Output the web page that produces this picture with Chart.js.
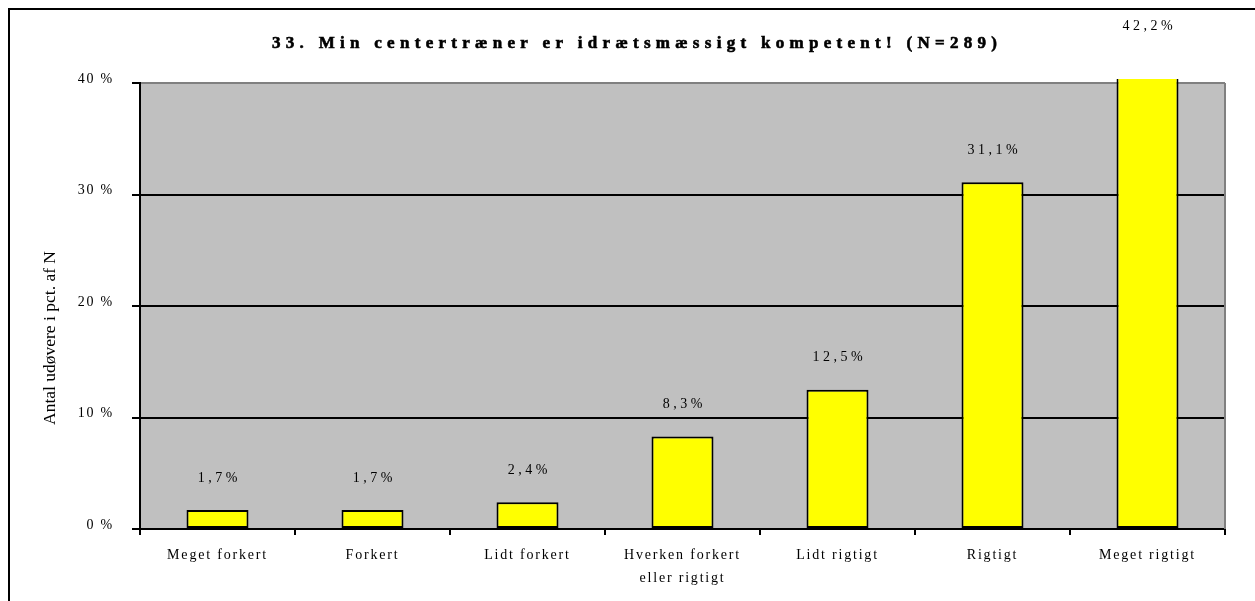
<!DOCTYPE html>
<html><head><meta charset="utf-8">
<script src="https://cdn.jsdelivr.net/npm/chart.js@4.4.1/dist/chart.umd.min.js"></script>
<style>html,body{margin:0;padding:0;background:#fff;overflow:hidden;}canvas{display:block;}</style>
</head><body>
<canvas id="c" width="1255" height="601"></canvas>
<script>
// ---- data ----
const categories = ['Meget forkert', 'Forkert', 'Lidt forkert', ['Hverken forkert', 'eller rigtigt'], 'Lidt rigtigt', 'Rigtigt', 'Meget rigtigt'];
const values = [1.7, 1.7, 2.4, 8.3, 12.5, 31.1, 42.2];
const yTickValues = [0, 10, 20, 30, 40];
const titleText = '33. Min centertræner er idrætsmæssigt kompetent! (N=289)';
const yTitleText = 'Antal udøvere i pct. af N';

const SERIF = "'Liberation Serif', 'DejaVu Serif', serif";
const fmt = v => String(v).replace('.', ',') + '%';

const deco = {
  id: 'deco',
  beforeDraw(chart) {
    const { ctx, chartArea: a } = chart;
    ctx.save();
    ctx.fillStyle = '#fff';
    ctx.fillRect(0, 0, chart.width, chart.height);
    ctx.fillStyle = '#C0C0C0';
    ctx.fillRect(a.left, a.top, a.right - a.left, a.bottom - a.top);
    ctx.restore();
    ctx.letterSpacing = '1.8px';
  },
  beforeDatasetsDraw(chart) {
    const { ctx, chartArea: a } = chart;
    ctx.save();
    ctx.strokeStyle = '#808080';
    ctx.lineWidth = 2;
    ctx.beginPath();
    ctx.moveTo(a.right, a.top);
    ctx.lineTo(a.right, a.bottom);
    ctx.stroke();
    ctx.restore();
  },
  afterDraw(chart) {
    const { ctx } = chart;
    const ys = chart.scales.y;
    const meta = chart.getDatasetMeta(0);
    ctx.save();
    // value labels
    const sp = 3.5;
    ctx.letterSpacing = sp + 'px';
    ctx.font = '14px ' + SERIF;
    ctx.fillStyle = '#000';
    ctx.textAlign = 'center';
    ctx.textBaseline = 'middle';
    values.forEach((v, i) => {
      const x = meta.data[i].x + sp / 2;
      const y = ys.getPixelForValue(v) - 32;
      ctx.fillText(fmt(v), x, y);
    });
    // title
    ctx.font = 'bold 17px ' + SERIF;
    ctx.letterSpacing = '0px';
    const w0 = ctx.measureText(titleText).width;
    const n = [...titleText].length;
    const tsp = (725 - w0) / (n - 1);
    ctx.letterSpacing = tsp + 'px';
    ctx.textAlign = 'left';
    ctx.strokeStyle = '#000';
    ctx.lineWidth = 0.6;
    ctx.fillText(titleText, 272, 44);
    ctx.strokeText(titleText, 272, 44);
    // y title
    ctx.letterSpacing = '0px';
    ctx.font = '17.5px ' + SERIF;
    ctx.textAlign = 'center';
    ctx.translate(50, 338);
    ctx.rotate(-Math.PI / 2);
    ctx.fillText(yTitleText, 0, 0);
    ctx.restore();
    // outer frame
    ctx.save();
    ctx.strokeStyle = '#000';
    ctx.lineWidth = 2;
    ctx.strokeRect(9, 9, 1400, 800);
    ctx.restore();
  }
};

new Chart(document.getElementById('c'), {
  type: 'bar',
  data: {
    labels: categories,
    datasets: [{
      data: values,
      backgroundColor: '#FFFF00',
      borderColor: '#000',
      borderWidth: 2,
      borderSkipped: false,
      barPercentage: 0.4,
      categoryPercentage: 1,
      clip: { left: false, right: false, bottom: false, top: 4 }
    }]
  },
  options: {
    responsive: false,
    devicePixelRatio: 1,
    animation: false,
    layout: { padding: { top: 83, right: 30, left: 0, bottom: 0 } },
    plugins: { legend: { display: false }, title: { display: false }, tooltip: { enabled: false } },
    scales: {
      x: {
        offset: true,
        afterFit(s) { s.height = 72; },
        grid: { display: true, drawOnChartArea: false, drawTicks: true, tickLength: 6, color: '#000', lineWidth: 2, offset: true },
        border: { display: true, color: '#000', width: 2 },
        ticks: {
          autoSkip: false, maxRotation: 0, minRotation: 0, padding: 8.5, color: '#000',
          font: { family: SERIF, size: 14, lineHeight: 23 / 14 }
        }
      },
      y: {
        min: 0, max: 40,
        afterFit(s) { s.width = 140; },
        afterBuildTicks(s) { s.ticks = yTickValues.map(v => ({ value: v })); },
        grid: {
          color: c => (c.tick && c.tick.value === 40) ? '#808080' : '#000',
          tickColor: '#000', lineWidth: 2, tickLength: 8, drawTicks: true
        },
        border: { display: true, color: '#000', width: 2 },
        ticks: {
          padding: 18, labelOffset: -4, color: '#000',
          font: { family: SERIF, size: 14 },
          callback: v => v + ' %'
        }
      }
    }
  },
  plugins: [deco]
});
</script>
</body></html>
